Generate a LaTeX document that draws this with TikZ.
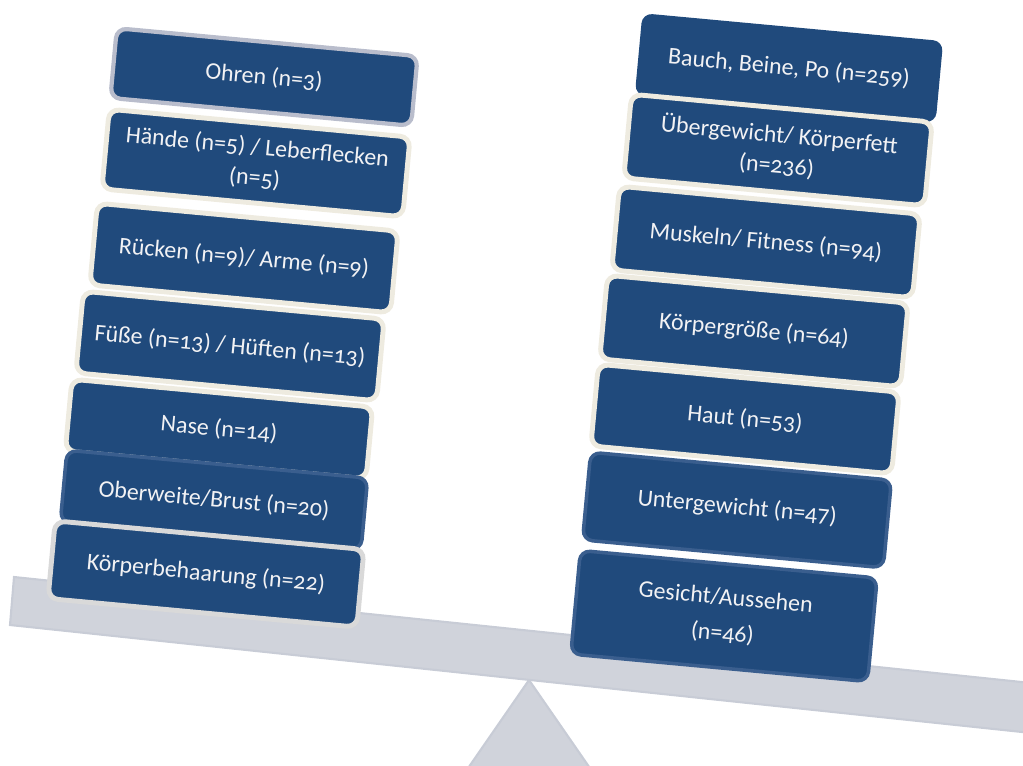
\documentclass[tikz,border=0pt]{standalone}
\usepackage{fontspec}
\setmainfont{Carlito}[Numbers=OldStyle]
\definecolor{boxblue}{RGB}{32,74,124}
\definecolor{boxtext}{RGB}{242,242,244}
\definecolor{creamedge}{RGB}{238,235,224}
\definecolor{grayedge}{RGB}{185,189,204}
\definecolor{lightedge}{RGB}{217,217,217}
\definecolor{blueedge}{RGB}{58,94,142}
\definecolor{beamgray}{RGB}{208,211,219}
\definecolor{beamedge}{RGB}{200,204,214}
\usepackage{tikz}
\usetikzlibrary{positioning}

\begin{document}
\begin{tikzpicture}[x=0.025cm, y=-0.025cm,
    blk/.style={rectangle, rounded corners=0.25cm, fill=boxblue, rotate=-5.3,
      minimum width=7.55cm, minimum height=2cm, align=center, text=boxtext,
      font=\fontsize{17}{22}\selectfont, inner sep=2pt},
    creamblk/.style={blk, draw=creamedge, line width=3.5pt},
    grayblk/.style={blk, draw=grayedge, line width=3pt},
    lightblk/.style={blk, draw=lightedge, line width=3.5pt},
    blueblk/.style={blk, draw=blueedge, line width=2.5pt}]
  \useasboundingbox (0,0) rectangle (1023,765);
  \clip (0,0) rectangle (1023,765);

  % scale: stand and beam
  \fill[beamgray, draw=beamedge, line width=1.5pt] (529,680) -- (612,800) -- (446,800) -- cycle;
  \fill[beamgray, draw=beamedge, line width=1.5pt] (14,577) -- (1060,686) -- (1060,736) -- (10,625) -- cycle;

  % left pan
  \node[grayblk, minimum height=1.75cm] (ohren) at (264,77) {Ohren (n=3)};
  \node[creamblk] (haende) at (256,163) {Hände (n=5) / Leberflecken\\(n=5)};
  \node[creamblk, minimum height=2.05cm] (ruecken) at (244,258) {Rücken (n=9)/ Arme (n=9)};
  \node[creamblk, minimum height=2.05cm] (fuesse) at (230,346) {Füße (n=13) / Hüften (n=13)};
  \node[creamblk, minimum height=1.8cm] (nase) at (219,429) {Nase (n=14)};
  \node[blueblk, minimum height=1.8cm] (oberweite) at (214,500) {Oberweite/Brust (n=20)};
  \node[lightblk, minimum width=7.75cm, minimum height=1.95cm] (haare) at (206,574) {Körperbehaarung (n=22)};

  % right pan
  \node[blk, minimum height=2.05cm] (bauch) at (789,68) {Bauch, Beine, Po (n=259)};
  \node[creamblk, minimum height=2.1cm] (ueber) at (778,150) {Übergewicht/ Körperfett\\(n=236)};
  \node[creamblk, minimum height=2.1cm] (muskeln) at (766,242) {Muskeln/ Fitness (n=94)};
  \node[creamblk, minimum height=2.1cm] (groesse) at (754,331) {Körpergröße (n=64)};
  \node[creamblk, minimum height=2.05cm] (haut) at (745,419) {Haut (n=53)};
  \node[blueblk, minimum height=2.2cm] (unter) at (737,510) {\raisebox{6pt}{Untergewicht (n=47)}};
  \node[blueblk, minimum width=7.45cm, minimum height=2.6cm] (gesicht) at (724,616) {Gesicht/Aussehen\\[3.5pt](n=46)};
\end{tikzpicture}
\end{document}
